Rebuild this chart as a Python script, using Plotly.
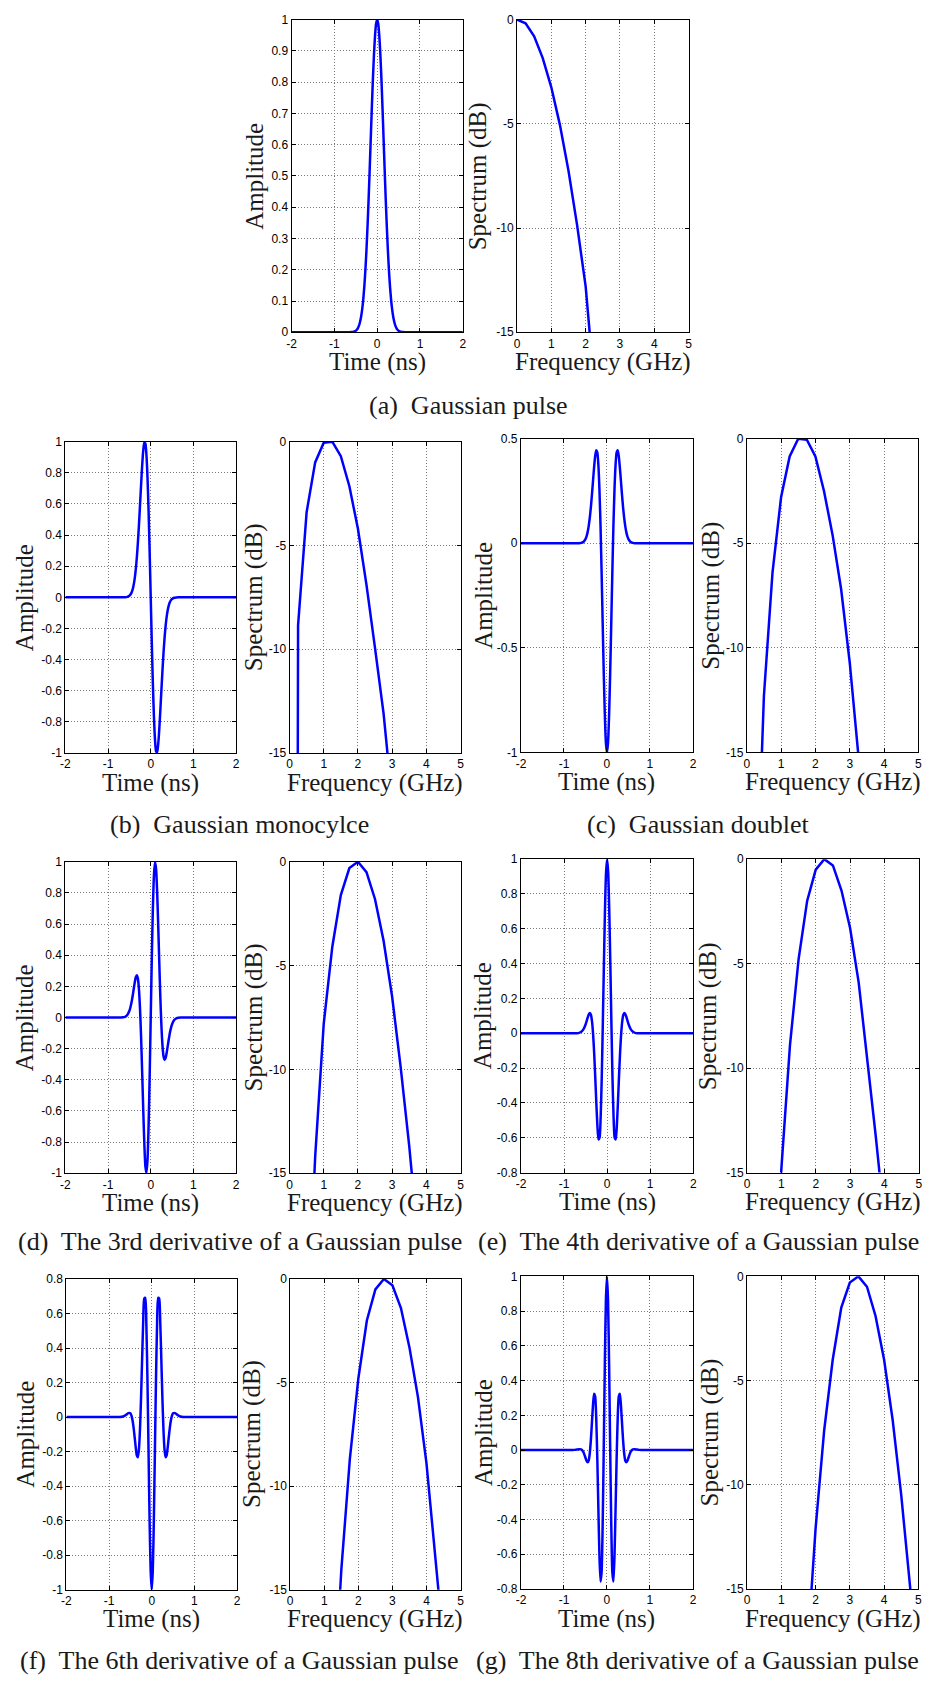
import plotly.graph_objects as go

W, H = 930, 1682

# ---------------- data ----------------
T_NS = [-2.0, -0.8, -0.75, -0.7, -0.65, -0.6, -0.55, -0.5, -0.475, -0.45, -0.425, -0.4, -0.375,
        -0.35, -0.325, -0.3, -0.275, -0.25, -0.225, -0.2, -0.175, -0.15, -0.125, -0.1, -0.075,
        -0.05, -0.025, 0.0, 0.025, 0.05, 0.075, 0.1, 0.125, 0.15, 0.175, 0.2, 0.225, 0.25, 0.275,
        0.3, 0.325, 0.35, 0.375, 0.4, 0.425, 0.45, 0.475, 0.5, 0.55, 0.6, 0.65, 0.7, 0.75, 0.8, 2.0]

PULSE_A = [0, 0, 0, 0, 0.0001, 0.0005, 0.0016, 0.0048, 0.0081, 0.013, 0.0211, 0.033, 0.0495,
           0.073, 0.1047, 0.146, 0.1987, 0.263, 0.339, 0.425, 0.5197, 0.618, 0.7162, 0.808, 0.8867,
           0.948, 0.9867, 1.0, 0.9867, 0.948, 0.8867, 0.808, 0.7162, 0.618, 0.5197, 0.425, 0.339,
           0.263, 0.1987, 0.146, 0.1047, 0.073, 0.0495, 0.033, 0.0211, 0.013, 0.0081, 0.0048,
           0.0016, 0.0005, 0.0001, 0, 0, 0, 0]

PULSE_B = [0, 0, 0, 0, 0.0002, 0.0007, 0.0029, 0.0100, 0.0177, 0.0303, 0.0499, 0.0795, 0.1222,
           0.1811, 0.2586, 0.3557, 0.4705, 0.5978, 0.7283, 0.8490, 0.9436, 0.9951, 0.9881, 0.9125,
           0.7652, 0.5525, 0.2898, 0.0, -0.2898, -0.5525, -0.7652, -0.9125, -0.9881, -0.9951,
           -0.9436, -0.8490, -0.7283, -0.5978, -0.4705, -0.3557, -0.2586, -0.1811, -0.1222,
           -0.0795, -0.0499, -0.0303, -0.0177, -0.0100, -0.0029, -0.0007, -0.0002, 0, 0, 0, 0]

PULSE_C = [0, 0, 0, 0.0001, 0.0004, 0.0018, 0.0064, 0.0200, 0.0333, 0.0533, 0.0820, 0.1209,
           0.1709, 0.2307, 0.2966, 0.3616, 0.4153, 0.4444, 0.4351, 0.3752, 0.2575, 0.0833, -0.1361,
           -0.3795, -0.6177, -0.8186, -0.9528, -1.0, -0.9528, -0.8186, -0.6177, -0.3795, -0.1361,
           0.0833, 0.2575, 0.3752, 0.4351, 0.4444, 0.4153, 0.3616, 0.2966, 0.2307, 0.1709, 0.1209,
           0.0820, 0.0533, 0.0333, 0.0200, 0.0064, 0.0018, 0.0004, 0.0001, 0, 0, 0]

PULSE_D = [0, 0, 0, 0.0003, 0.0013, 0.0049, 0.0158, 0.0429, 0.0662, 0.0975, 0.1364, 0.1804,
           0.2242, 0.2587, 0.2715, 0.2488, 0.1775, 0.0496, -0.1335, -0.3579, -0.5961, -0.8099,
           -0.9566, -0.9985, -0.9123, -0.6974, -0.3780, 0.0, 0.3780, 0.6974, 0.9123, 0.9985, 0.9566,
           0.8099, 0.5961, 0.3579, 0.1335, -0.0496, -0.1775, -0.2488, -0.2715, -0.2587, -0.2242,
           -0.1804, -0.1364, -0.0975, -0.0662, -0.0429, -0.0158, -0.0049, -0.0013, -0.0003, 0, 0, 0]

PULSE_E = [0, 0, 0.0001, 0.0006, 0.0024, 0.0079, 0.0221, 0.0505, 0.0701, 0.0909, 0.1085, 0.1162,
           0.1054, 0.0668, -0.0066, -0.1163, -0.2549, -0.4037, -0.5338, -0.6104, -0.6003, -0.4826,
           -0.2568, 0.0514, 0.3929, 0.7040, 0.9217, 1.0, 0.9217, 0.7040, 0.3929, 0.0514, -0.2568,
           -0.4826, -0.6003, -0.6104, -0.5338, -0.4037, -0.2549, -0.1163, -0.0066, 0.0668, 0.1054,
           0.1162, 0.1085, 0.0909, 0.0701, 0.0505, 0.0221, 0.0079, 0.0024, 0.0006, 0.0001, 0, 0]

PULSE_F = [0, 0.0001, 0.0005, 0.0018, 0.0056, 0.0133, 0.0232, 0.0220, 0.0086, -0.0184, -0.0609,
           -0.1162, -0.1752, -0.2213, -0.2325, -0.1867, -0.0701, 0.1136, 0.3370, 0.5494, 0.6869,
           0.6911, 0.5302, 0.2163, -0.1904, -0.5943, -0.8910, -1.0, -0.8910, -0.5943, -0.1904,
           0.2163, 0.5302, 0.6911, 0.6869, 0.5494, 0.3370, 0.1136, -0.0701, -0.1867, -0.2325,
           -0.2213, -0.1752, -0.1162, -0.0609, -0.0184, 0.0086, 0.0220, 0.0232, 0.0133, 0.0056,
           0.0018, 0.0005, 0.0001, 0]

PULSE_G = [0, 0.0003, 0.0010, 0.0026, 0.0048, 0.0035, -0.0108, -0.0441, -0.0619, -0.0709, -0.0601,
           -0.0192, 0.0554, 0.1561, 0.2584, 0.3240, 0.3100, 0.1867, -0.0440, -0.3369, -0.6078,
           -0.7566, -0.7041, -0.4300, 0.0091, 0.4896, 0.8607, 1.0, 0.8607, 0.4896, 0.0091, -0.4300,
           -0.7041, -0.7566, -0.6078, -0.3369, -0.0440, 0.1867, 0.3100, 0.3240, 0.2584, 0.1561,
           0.0554, -0.0192, -0.0601, -0.0709, -0.0619, -0.0441, -0.0108, 0.0035, 0.0048, 0.0026,
           0.0010, 0.0003, 0]

F_GHZ = [0.0, 0.25, 0.5, 0.75, 1.0, 1.25, 1.5, 1.75, 2.0, 2.25, 2.5, 2.75, 3.0, 3.25, 3.5,
         3.75, 4.0, 4.25, 4.5, 4.75, 5.0]

SPEC_A = [0, -0.18, -0.8, -1.85, -3.25, -5.05, -7.25, -9.85, -12.8, -17.5]
SPEC_B = [-200, -8.85, -3.4, -1.0, -0.05, 0, -0.7, -2.15, -4.2, -6.9, -9.95, -13.1, -17.3]
SPEC_C = [-200, -23.9, -12.3, -6.4, -2.8, -0.85, 0, -0.05, -0.85, -2.5, -4.6, -7.2, -10.7,
          -15.0, -19.5]
SPEC_D = [-200, -41.2, -23.6, -14.2, -7.8, -4.1, -1.6, -0.3, 0, -0.5, -1.8, -3.8, -6.5, -9.9,
          -13.7, -18.0, -22.5]
SPEC_E = [-200, -59.8, -36.4, -23.3, -14.8, -8.9, -4.8, -2.0, -0.5, 0, -0.3, -1.5, -3.3, -5.9,
          -9.5, -13.3, -17.3, -21.5]
SPEC_F = [-200, -100.2, -64.7, -44.6, -31.1, -21.3, -14.05, -8.7, -4.8, -2.0, -0.5, 0, -0.3,
          -1.4, -3.3, -5.7, -8.9, -12.8, -17.2, -22.0]
SPEC_G = [-200, -143.6, -96.0, -68.9, -50.35, -36.7, -26.3, -18.27, -12.1, -7.4, -4.0, -1.5,
          -0.3, 0, -0.5, -1.9, -4.0, -6.9, -10.5, -14.6, -19.0]

# ---------------- tick labels ----------------
TIME_TICKS = [-2, -1, 0, 1, 2]
TIME_TEXT = ["-2", "-1", "0", "1", "2"]
FREQ_TICKS = [0, 1, 2, 3, 4, 5]
FREQ_TEXT = ["0", "1", "2", "3", "4", "5"]
DB_TICKS = [-15, -10, -5, 0]
DB_TEXT = ["-15", "-10", "-5", "0"]
AMP_A_TICKS = [0, 0.1, 0.2, 0.3, 0.4, 0.5, 0.6, 0.7, 0.8, 0.9, 1]
AMP_A_TEXT = ["0", "0.1", "0.2", "0.3", "0.4", "0.5", "0.6", "0.7", "0.8", "0.9", "1"]
AMP_B_TICKS = [-1, -0.8, -0.6, -0.4, -0.2, 0, 0.2, 0.4, 0.6, 0.8, 1]
AMP_B_TEXT = ["-1", "-0.8", "-0.6", "-0.4", "-0.2", "0", "0.2", "0.4", "0.6", "0.8", "1"]
AMP_C_TICKS = [-1, -0.5, 0, 0.5]
AMP_C_TEXT = ["-1", "-0.5", "0", "0.5"]
AMP_E_TICKS = [-0.8, -0.6, -0.4, -0.2, 0, 0.2, 0.4, 0.6, 0.8, 1]
AMP_E_TEXT = ["-0.8", "-0.6", "-0.4", "-0.2", "0", "0.2", "0.4", "0.6", "0.8", "1"]
AMP_F_TICKS = [-1, -0.8, -0.6, -0.4, -0.2, 0, 0.2, 0.4, 0.6, 0.8]
AMP_F_TEXT = ["-1", "-0.8", "-0.6", "-0.4", "-0.2", "0", "0.2", "0.4", "0.6", "0.8"]

CAPTIONS = ["(a)  Gaussian pulse", "(b)  Gaussian monocylce", "(c)  Gaussian doublet",
            "(d)  The 3rd derivative of a Gaussian pulse",
            "(e)  The 4th derivative of a Gaussian pulse",
            "(f)  The 6th derivative of a Gaussian pulse",
            "(g)  The 8th derivative of a Gaussian pulse"]

# ---------------- layout geometry (pixels) ----------------
panels = [
    dict(pulse=PULSE_A, yr=[0, 1], yt=(AMP_A_TICKS, AMP_A_TEXT), spec=SPEC_A,
         tbox=(289.3, 462.3, 12.7, 328), sbox=(517, 690.3, 12.7, 328),
         aoff=37, soff=39, cap=(468, 402)),
    dict(pulse=PULSE_B, yr=[-1, 1], yt=(AMP_B_TICKS, AMP_B_TEXT), spec=SPEC_B,
         tbox=(61, 233.3, 438.3, 752.3), sbox=(287.3, 460, 438.3, 752.3),
         aoff=41, soff=36, cap=(237, 824)),
    dict(pulse=PULSE_C, yr=[-1, 0.5], yt=(AMP_C_TICKS, AMP_C_TEXT), spec=SPEC_C,
         tbox=(521, 694.7, 435.3, 751.7), sbox=(749, 922.3, 435.3, 751.7),
         aoff=38, soff=37, cap=(700, 824)),
    dict(pulse=PULSE_D, yr=[-1, 1], yt=(AMP_B_TICKS, AMP_B_TEXT), spec=SPEC_D,
         tbox=(61, 233.3, 862, 1176), sbox=(287.3, 460, 862, 1176),
         aoff=41, soff=36, cap=(237, 1245)),
    dict(pulse=PULSE_E, yr=[-0.8, 1], yt=(AMP_E_TICKS, AMP_E_TEXT), spec=SPEC_E,
         tbox=(521, 695, 859.3, 1175.3), sbox=(749.3, 922.7, 859.3, 1175.3),
         aoff=38, soff=40, cap=(700, 1245)),
    dict(pulse=PULSE_F, yr=[-1, 0.8], yt=(AMP_F_TICKS, AMP_F_TEXT), spec=SPEC_F,
         tbox=(62, 234.3, 1282.7, 1596), sbox=(288, 460, 1282.7, 1596),
         aoff=41.5, soff=38, cap=(237, 1667)),
    dict(pulse=PULSE_G, yr=[-0.8, 1], yt=(AMP_E_TICKS, AMP_E_TEXT), spec=SPEC_G,
         tbox=(521, 694.7, 1280, 1595.3), sbox=(749.3, 922.3, 1280, 1595.3),
         aoff=38, soff=37.6, cap=(699, 1667)),
]

TICK_FONT = dict(family="Liberation Sans, Arial, sans-serif", size=12, color="black")
TITLE_FONT = dict(family="Liberation Serif, Times New Roman, serif", size=25, color="#1a1a1a")
CAP_FONT = dict(family="Liberation Serif, Times New Roman, serif", size=26, color="#1a1a1a")
LINE = dict(color="#0000ff", width=2.5)


def px_x(x):
    return x / W


def px_y(y):
    return 1 - y / H


def axis_common():
    return dict(ticks="inside", ticklen=4, tickcolor="black", tickwidth=1,
                showline=True, linecolor="black", linewidth=1, mirror="ticks",
                showgrid=True, gridcolor="#7a7a7a", griddash="1px,2px", gridwidth=1,
                zeroline=False, tickfont=TICK_FONT, fixedrange=True)


fig = go.Figure()
layout = {}
annotations = []
idx = 0
for pi, p in enumerate(panels):
    for kind in ("time", "spec"):
        idx += 1
        xa = "x" if idx == 1 else f"x{idx}"
        ya = "y" if idx == 1 else f"y{idx}"
        xkey = "xaxis" if idx == 1 else f"xaxis{idx}"
        ykey = "yaxis" if idx == 1 else f"yaxis{idx}"
        if kind == "time":
            box = p["tbox"]
            fig.add_trace(go.Scatter(x=T_NS, y=p["pulse"], mode="lines", xaxis=xa, yaxis=ya,
                                     line=dict(shape="spline", smoothing=0.6, **LINE),
                                     showlegend=False, hoverinfo="skip"))
            xr, xt, yr, yt = [-2, 2], (TIME_TICKS, TIME_TEXT), p["yr"], p["yt"]
            xtitle, ytitle, off = "Time (ns)", "Amplitude", p["aoff"]
        else:
            box = p["sbox"]
            fig.add_trace(go.Scatter(x=F_GHZ[:len(p["spec"])], y=p["spec"], mode="lines",
                                     xaxis=xa, yaxis=ya, line=LINE,
                                     showlegend=False, hoverinfo="skip"))
            xr, xt, yr, yt = [0, 5], (FREQ_TICKS, FREQ_TEXT), [-15, 0], (DB_TICKS, DB_TEXT)
            xtitle, ytitle, off = "Frequency (GHz)", "Spectrum (dB)", p["soff"]
        x0, x1, y0, y1 = box
        layout[xkey] = dict(domain=[px_x(x0), px_x(x1)], range=xr, tickvals=xt[0],
                            ticktext=xt[1], anchor=ya, **axis_common())
        layout[ykey] = dict(domain=[px_y(y1), px_y(y0)], range=yr, tickvals=yt[0],
                            ticktext=yt[1], anchor=xa, **axis_common())
        annotations.append(dict(text=xtitle, x=px_x((x0 + x1) / 2), y=px_y(y1 + 30),
                                xref="paper", yref="paper", showarrow=False,
                                xanchor="center", yanchor="middle", font=TITLE_FONT))
        annotations.append(dict(text=ytitle, x=px_x(x0 - off), y=px_y((y0 + y1) / 2),
                                xref="paper", yref="paper", showarrow=False, textangle=-90,
                                xanchor="center", yanchor="middle", font=TITLE_FONT))
    cx, cy = p["cap"]
    annotations.append(dict(text=CAPTIONS[pi], x=px_x(cx), y=px_y(cy),
                            xref="paper", yref="paper", showarrow=False,
                            xanchor="center", yanchor="middle", font=CAP_FONT))

fig.update_layout(width=W, height=H, margin=dict(l=0, r=0, t=0, b=0),
                  paper_bgcolor="white", plot_bgcolor="white",
                  annotations=annotations, **layout)

fig.write_html("out.html")
